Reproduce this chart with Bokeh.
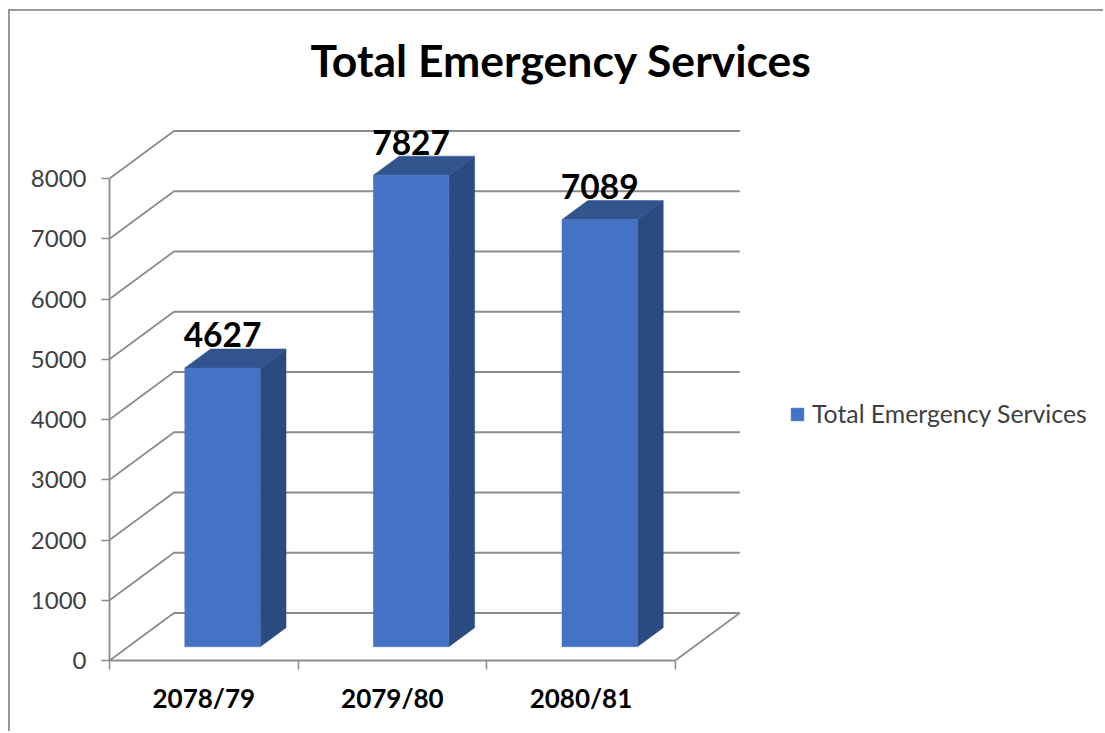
from bokeh.plotting import figure
from bokeh.embed import file_html
from bokeh.resources import INLINE
from bokeh.core.properties import value
from bokeh.models import (FixedTicker, Legend, LegendItem, ColumnDataSource, Range1d)

title = "Total Emergency Services"
categories = ["2078/79", "2079/80", "2080/81"]
totals = [4627, 7827, 7089]
y_ticks = [0, 1000, 2000, 3000, 4000, 5000, 6000, 7000, 8000]

W, H = 1095, 722
B_LEFT, B_RIGHT, B_TOP, B_BOTTOM = 99, 0, 83, 73
PX_X = 188.6            # pixels per category
PX_Y = 482 / 8000       # pixels per unit
DX = 64.5 / PX_X        # depth offset of the back wall, x data units
DY = 47.5 / PX_Y        # depth offset of the back wall, y data units
Z_FRONT, Z_BACK = 0.29, 0.69
BAR_W = 0.4
GRID = "#8c8c8c"
EDGE = "2px solid #999999"
FONT = "Lato"

p = figure(width=W, height=H, output_backend="svg", toolbar_location=None,
           min_border_left=B_LEFT, min_border_right=B_RIGHT,
           min_border_top=B_TOP, min_border_bottom=B_BOTTOM,
           x_range=Range1d(0, (W - B_LEFT - B_RIGHT) / PX_X),
           y_range=Range1d(0, (H - B_TOP - B_BOTTOM) / PX_Y),
           outline_line_color=None, background_fill_color="white", border_fill_color="white",
           styles={"margin-left": "8px", "margin-top": "9px",
                   "border-left": EDGE, "border-top": EDGE})
p.grid.visible = False

p.title.text = title
p.title.text_font = FONT
p.title.text_font_size = "44.5px"
p.title.text_font_style = "bold"
p.title.text_color = "#000000"
p.title.align = "left"
p.title.offset = 201
p.title.standoff = 17

n = len(categories)
# walls and floor
xs, ys = [], []
for v in y_ticks:
    xs.append([0, DX, n + DX])
    ys.append([v, v + DY, v + DY])
xs.append([n, n + DX])
ys.append([0, DY])
p.multi_line(xs, ys, line_color=GRID, line_width=1.8)

# bars: side and top faces, then front
centers = [i + 0.5 for i in range(n)]
side_x, side_y, top_x, top_y = [], [], [], []
for c, t in zip(centers, totals):
    r = c + BAR_W / 2
    l = c - BAR_W / 2
    side_x.append([r + Z_FRONT * DX, r + Z_BACK * DX, r + Z_BACK * DX, r + Z_FRONT * DX])
    side_y.append([Z_FRONT * DY, Z_BACK * DY, t + Z_BACK * DY, t + Z_FRONT * DY])
    top_x.append([l + Z_FRONT * DX, l + Z_BACK * DX, r + Z_BACK * DX, r + Z_FRONT * DX])
    top_y.append([t + Z_FRONT * DY, t + Z_BACK * DY, t + Z_BACK * DY, t + Z_FRONT * DY])
p.patches(side_x, side_y, fill_color="#2b4a80", line_color="#2b4a80", line_width=0.5)
p.patches(top_x, top_y, fill_color="#31548f", line_color="#31548f", line_width=0.5)
bars = p.vbar(x=[c + Z_FRONT * DX for c in centers], width=BAR_W,
              bottom=Z_FRONT * DY, top=[t + Z_FRONT * DY for t in totals],
              fill_color="#4472c4", line_color="#4472c4", line_width=0.5)

# value labels
src = ColumnDataSource(dict(x=[c + Z_FRONT * DX for c in centers],
                            y=[t + Z_BACK * DY for t in totals],
                            t=[str(t) for t in totals]))
p.text("x", "y", text="t", source=src, text_align="center", text_baseline="alphabetic",
       y_offset=-14, text_font=value(FONT), text_font_style="bold", text_font_size="33.5px",
       text_color="#000000")

# axes
ya = p.yaxis[0]
ya.ticker = FixedTicker(ticks=y_ticks)
ya.bounds = (0, 8000)
ya.axis_line_color = GRID
ya.axis_line_width = 1.8
ya.major_tick_line_color = GRID
ya.major_tick_line_width = 1.5
ya.major_tick_out = 8
ya.major_tick_in = 0
ya.minor_tick_line_color = None
ya.major_label_standoff = 15
ya.major_label_text_font = FONT
ya.major_label_text_font_size = "24px"
ya.major_label_text_color = "#404040"

xa = p.xaxis[0]
xa.ticker = FixedTicker(ticks=centers, minor_ticks=list(range(n + 1)))
xa.major_label_overrides = {c: s for c, s in zip(centers, categories)}
xa.bounds = (0, n)
xa.axis_line_color = GRID
xa.axis_line_width = 1.8
xa.major_tick_line_color = None
xa.major_tick_out = 0
xa.major_tick_in = 0
xa.minor_tick_line_color = GRID
xa.minor_tick_line_width = 1.5
xa.minor_tick_out = 9
xa.minor_tick_in = 0
xa.major_label_standoff = 12
xa.major_label_text_font = FONT
xa.major_label_text_font_style = "bold"
xa.major_label_text_font_size = "26px"
xa.major_label_text_color = "#000000"

legend = Legend(items=[LegendItem(label=title, renderers=[bars])],
                location=(680, 232), orientation="vertical",
                background_fill_alpha=0, border_line_color=None,
                padding=0, margin=0, glyph_width=16, glyph_height=16, label_standoff=7,
                label_text_font=FONT, label_text_font_size="24.8px", label_text_color="#404040")
p.add_layout(legend, "center")

open("out.html", "w").write(file_html(p, INLINE))
